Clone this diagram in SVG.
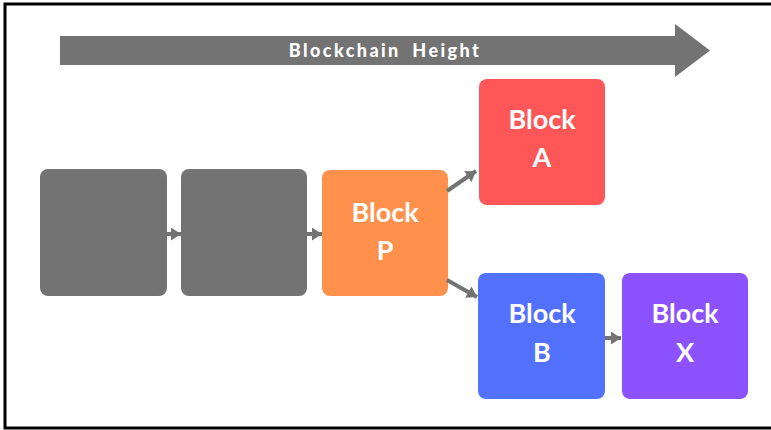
<svg xmlns="http://www.w3.org/2000/svg" width="771" height="430" viewBox="0 0 771 430">
  <defs>
    <style>
      .frame { fill: #ffffff; stroke: #000000; stroke-width: 3; }
      .block { stroke: none; }
      .label { font-family: Lato, "Open Sans", "Liberation Sans", sans-serif; font-weight: 700; fill: #ffffff; text-anchor: middle; font-size: 27px; }
      .title { font-family: Lato, "Open Sans", "Liberation Sans", sans-serif; font-weight: 900; fill: #ffffff; text-anchor: middle; font-size: 18px; letter-spacing: 2.4px; word-spacing: 5px; }
      .link { stroke: #737373; stroke-width: 4; fill: none; marker-end: url(#head); }
    </style>
    <marker id="head" markerUnits="userSpaceOnUse" markerWidth="11" markerHeight="13" refX="10" refY="6.5" orient="auto">
      <path d="M0,0 L10,6.5 L0,13 Z" fill="#737373"/>
    </marker>
  </defs>

  <rect x="0" y="0" width="771" height="430" fill="#ffffff"/>
  <rect class="frame" x="5" y="4" width="780" height="424"/>

  <!-- height arrow -->
  <g id="height-arrow">
    <path d="M60,36 H675 V24 L710,50.5 L675,77 V65 H60 Z" fill="#737373"/>
    <text class="title" x="385" y="57">Blockchain Height</text>
  </g>

  <!-- blocks -->
  <g id="block-1">
    <rect class="block" x="40" y="169" width="127" height="127" rx="8" fill="#737373"/>
  </g>
  <g id="block-2">
    <rect class="block" x="181" y="169" width="126" height="127" rx="8" fill="#737373"/>
  </g>
  <g id="block-p">
    <rect class="block" x="322" y="170" width="126" height="126" rx="8" fill="#FF914D"/>
    <text class="label" x="385" y="222">Block</text>
    <text class="label" x="385" y="260">P</text>
  </g>
  <g id="block-a">
    <rect class="block" x="479" y="79" width="126" height="126" rx="8" fill="#FF5757"/>
    <text class="label" x="542" y="129">Block</text>
    <text class="label" x="542" y="167">A</text>
  </g>
  <g id="block-b">
    <rect class="block" x="478" y="273" width="127" height="126" rx="8" fill="#5271FF"/>
    <text class="label" x="542" y="323">Block</text>
    <text class="label" x="542" y="362">B</text>
  </g>
  <g id="block-x">
    <rect class="block" x="622" y="273" width="126" height="126" rx="8" fill="#8C52FF"/>
    <text class="label" x="685" y="323">Block</text>
    <text class="label" x="685" y="362">X</text>
  </g>

  <!-- connectors -->
  <g id="connectors">
    <line class="link" x1="167" y1="234" x2="181" y2="234"/>
    <line class="link" x1="307" y1="234" x2="322" y2="234"/>
    <line class="link" x1="447" y1="191" x2="476" y2="171"/>
    <line class="link" x1="447" y1="280" x2="477" y2="297"/>
    <line class="link" x1="605" y1="338" x2="621" y2="338"/>
  </g>
</svg>
